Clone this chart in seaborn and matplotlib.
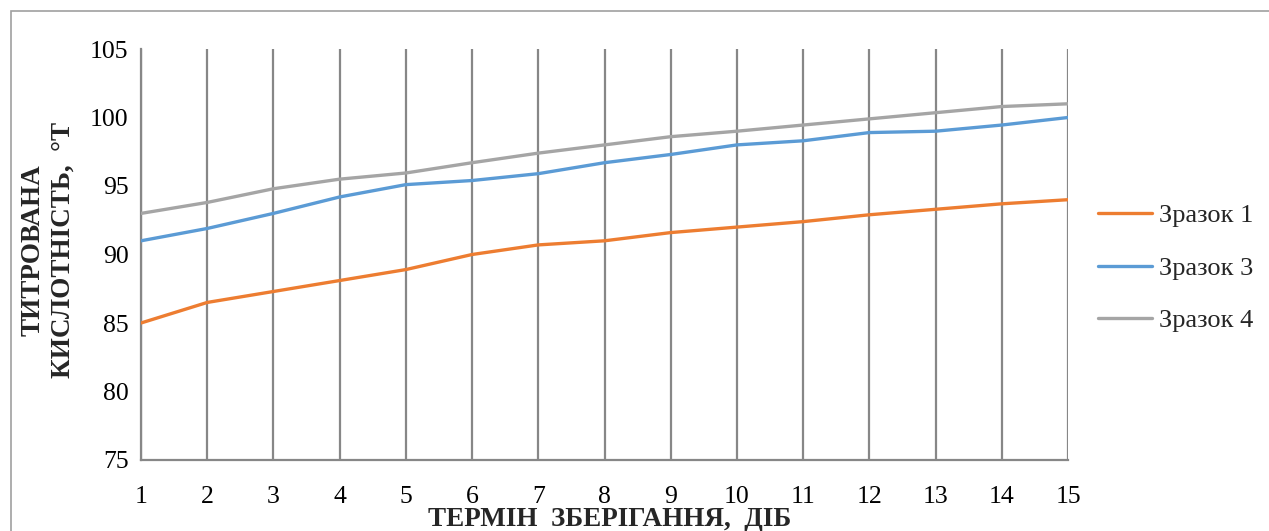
import numpy as np
import pandas as pd
import matplotlib
matplotlib.use("Agg")
import matplotlib.pyplot as plt
import seaborn as sns
from matplotlib.patches import Rectangle
from matplotlib.lines import Line2D

days = list(range(1, 16))
zrazok1 = [85.0, 86.5, 87.3, 88.1, 88.9, 90.0, 90.7, 91.0, 91.6, 92.0, 92.4, 92.9, 93.3, 93.7, 94.0]
zrazok3 = [91.0, 91.9, 93.0, 94.2, 95.1, 95.4, 95.9, 96.7, 97.3, 98.0, 98.3, 98.9, 99.0, 99.45, 100.0]
zrazok4 = [93.0, 93.8, 94.8, 95.5, 95.95, 96.7, 97.4, 98.0, 98.6, 99.0, 99.45, 99.9, 100.35, 100.8, 101.0]
series_names = ["Зразок 1", "Зразок 3", "Зразок 4"]
colors = ["#ED7D31", "#5B9BD5", "#A5A5A5"]
yticks = [75, 80, 85, 90, 95, 100, 105]

df = pd.DataFrame({
    "day": days * 3,
    "value": zrazok1 + zrazok3 + zrazok4,
    "series": [series_names[0]] * 15 + [series_names[1]] * 15 + [series_names[2]] * 15,
})

sns.set_theme(style="white")
plt.rcParams["font.family"] = ["Liberation Serif", "DejaVu Serif"]

W, H = 1269, 531
fig = plt.figure(figsize=(W / 100, H / 100), dpi=100)
left, right, top, bottom = 141, 1068, 49, 460
ax = fig.add_axes([left / W, 1 - bottom / H, (right - left) / W, (bottom - top) / H])

# vertical gridlines
for d in days:
    ax.axvline(d, color="#878787", lw=1.6, zorder=0)

sns.lineplot(data=df, x="day", y="value", hue="series", palette=colors,
             linewidth=2.4, ax=ax, legend=False, zorder=3)

ax.set_xlim(1, 15)
ax.set_ylim(75, 105)
ax.set_xticks(days)
ax.set_yticks(yticks)
ax.tick_params(axis="both", labelsize=18.5, colors="#878787", labelcolor="black",
               length=7, width=1.4, direction="out")
ax.tick_params(axis="x", pad=12)
ax.tick_params(axis="y", pad=2)
for s in ["top", "right"]:
    ax.spines[s].set_visible(False)
for s in ["left", "bottom"]:
    ax.spines[s].set_color("#878787")
    ax.spines[s].set_linewidth(1.6)
ax.set_xlabel("")
ax.set_ylabel("")

fig.text(610 / W, 1 - 520 / H, "ТЕРМІН  ЗБЕРІГАННЯ,  ДІБ", ha="center", va="center",
         fontsize=19.5, fontweight="bold")
fig.text(48 / W, 1 - 250 / H, "ТИТРОВАНА\nКИСЛОТНІСТЬ,  °Т", ha="center", va="center",
         rotation=90, fontsize=19.5, fontweight="bold", linespacing=1.25)

# legend
handles = [Line2D([0], [0], color=c, lw=2.4) for c in colors]
fig.legend(handles, series_names, loc="center left", bbox_to_anchor=(1098 / W, 1 - 268 / H),
           frameon=False, fontsize=19, handlelength=2.05, handletextpad=0.27,
           labelspacing=1.1, borderaxespad=0, borderpad=0)

# outer chart border
fig.patches.append(Rectangle((11 / W, -0.1), 1.2, 1 - 11 / H + 0.1, transform=fig.transFigure,
                             fill=False, edgecolor="#A0A0A0", lw=1.2))

fig.savefig("out.png", dpi=100)
